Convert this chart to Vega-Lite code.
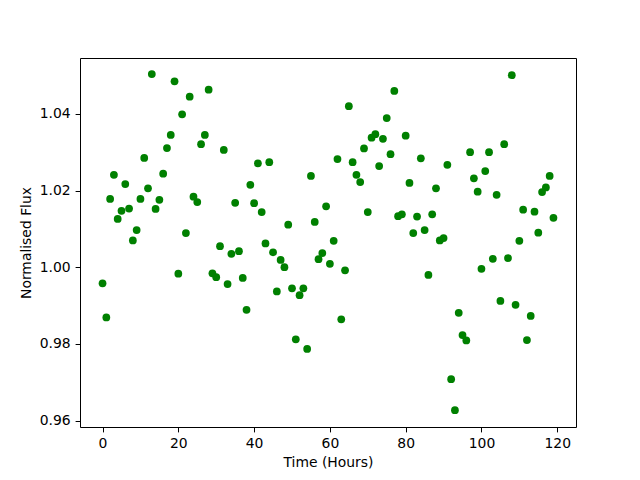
{
  "$schema": "https://vega.github.io/schema/vega-lite/v6.json",
  "width": 496,
  "height": 369,
  "autosize": {"type": "none"},
  "padding": {"left": 80, "top": 58, "right": 64, "bottom": 53},
  "background": "white",
  "config": {
    "view": {"stroke": "black", "strokeWidth": 1},
    "axis": {
      "grid": false,
      "domain": false,
      "tickColor": "black",
      "tickSize": 4.9,
      "tickWidth": 1,
      "labelFont": "DejaVu Sans",
      "labelFontSize": 13.9,
      "labelColor": "black",
      "labelPadding": 4.9,
      "titleFont": "DejaVu Sans",
      "titleFontSize": 13.9,
      "titleFontWeight": "normal",
      "titleColor": "black"
    }
  },
  "data": {
    "values": [
      {"t": 0, "f": 0.9958}, {"t": 1, "f": 0.9869}, {"t": 2, "f": 1.0178}, {"t": 3, "f": 1.0241},
      {"t": 4, "f": 1.0126}, {"t": 5, "f": 1.0147}, {"t": 6, "f": 1.0217}, {"t": 7, "f": 1.0153},
      {"t": 8, "f": 1.0070}, {"t": 9, "f": 1.0097}, {"t": 10, "f": 1.0178}, {"t": 11, "f": 1.0285},
      {"t": 12, "f": 1.0206}, {"t": 13, "f": 1.0504}, {"t": 14, "f": 1.0152}, {"t": 15, "f": 1.0176},
      {"t": 16, "f": 1.0244}, {"t": 17, "f": 1.0311}, {"t": 18, "f": 1.0345}, {"t": 19, "f": 1.0485},
      {"t": 20, "f": 0.9983}, {"t": 21, "f": 1.0399}, {"t": 22, "f": 1.0089}, {"t": 23, "f": 1.0445},
      {"t": 24, "f": 1.0184}, {"t": 25, "f": 1.0170}, {"t": 26, "f": 1.0321}, {"t": 27, "f": 1.0345},
      {"t": 28, "f": 1.0463}, {"t": 29, "f": 0.9984}, {"t": 30, "f": 0.9974}, {"t": 31, "f": 1.0055},
      {"t": 32, "f": 1.0306}, {"t": 33, "f": 0.9956}, {"t": 34, "f": 1.0035}, {"t": 35, "f": 1.0168},
      {"t": 36, "f": 1.0042}, {"t": 37, "f": 0.9972}, {"t": 38, "f": 0.9889}, {"t": 39, "f": 1.0215},
      {"t": 40, "f": 1.0167}, {"t": 41, "f": 1.0271}, {"t": 42, "f": 1.0144}, {"t": 43, "f": 1.0062},
      {"t": 44, "f": 1.0274}, {"t": 45, "f": 1.0039}, {"t": 46, "f": 0.9937}, {"t": 47, "f": 1.0019},
      {"t": 48, "f": 1.0000}, {"t": 49, "f": 1.0111}, {"t": 50, "f": 0.9945}, {"t": 51, "f": 0.9812},
      {"t": 52, "f": 0.9927}, {"t": 53, "f": 0.9945}, {"t": 54, "f": 0.9787}, {"t": 55, "f": 1.0238},
      {"t": 56, "f": 1.0118}, {"t": 57, "f": 1.0021}, {"t": 58, "f": 1.0037}, {"t": 59, "f": 1.0159},
      {"t": 60, "f": 1.0009}, {"t": 61, "f": 1.0069}, {"t": 62, "f": 1.0282}, {"t": 63, "f": 0.9864},
      {"t": 64, "f": 0.9992}, {"t": 65, "f": 1.0420}, {"t": 66, "f": 1.0274}, {"t": 67, "f": 1.0241},
      {"t": 68, "f": 1.0222}, {"t": 69, "f": 1.0310}, {"t": 70, "f": 1.0144}, {"t": 71, "f": 1.0338},
      {"t": 72, "f": 1.0347}, {"t": 73, "f": 1.0264}, {"t": 74, "f": 1.0335}, {"t": 75, "f": 1.0389},
      {"t": 76, "f": 1.0295}, {"t": 77, "f": 1.0460}, {"t": 78, "f": 1.0133}, {"t": 79, "f": 1.0138},
      {"t": 80, "f": 1.0343}, {"t": 81, "f": 1.0220}, {"t": 82, "f": 1.0089}, {"t": 83, "f": 1.0132},
      {"t": 84, "f": 1.0284}, {"t": 85, "f": 1.0097}, {"t": 86, "f": 0.9980}, {"t": 87, "f": 1.0138},
      {"t": 88, "f": 1.0206}, {"t": 89, "f": 1.0070}, {"t": 90, "f": 1.0076}, {"t": 91, "f": 1.0267},
      {"t": 92, "f": 0.9708}, {"t": 93, "f": 0.9627}, {"t": 94, "f": 0.9881}, {"t": 95, "f": 0.9823},
      {"t": 96, "f": 0.9809}, {"t": 97, "f": 1.0300}, {"t": 98, "f": 1.0232}, {"t": 99, "f": 1.0197},
      {"t": 100, "f": 0.9996}, {"t": 101, "f": 1.0251}, {"t": 102, "f": 1.0300}, {"t": 103, "f": 1.0022},
      {"t": 104, "f": 1.0189}, {"t": 105, "f": 0.9912}, {"t": 106, "f": 1.0321}, {"t": 107, "f": 1.0024},
      {"t": 108, "f": 1.0501}, {"t": 109, "f": 0.9902}, {"t": 110, "f": 1.0069}, {"t": 111, "f": 1.0150},
      {"t": 112, "f": 0.9810}, {"t": 113, "f": 0.9873}, {"t": 114, "f": 1.0145}, {"t": 115, "f": 1.0090},
      {"t": 116, "f": 1.0196}, {"t": 117, "f": 1.0208}, {"t": 118, "f": 1.0238}, {"t": 119, "f": 1.0129}
    ]
  },
  "mark": {"type": "point", "filled": true, "shape": "circle", "size": 60, "color": "#008000", "opacity": 1},
  "encoding": {
    "x": {
      "field": "t",
      "type": "quantitative",
      "scale": {"domain": [-5.95, 124.95], "nice": false, "zero": false},
      "axis": {"values": [0, 20, 40, 60, 80, 100, 120], "title": "Time (Hours)", "titlePadding": 5}
    },
    "y": {
      "field": "f",
      "type": "quantitative",
      "scale": {"domain": [0.95832, 1.05458], "nice": false, "zero": false},
      "axis": {"values": [0.96, 0.98, 1.0, 1.02, 1.04], "format": ".2f", "title": "Normalised Flux", "titlePadding": 6}
    }
  }
}
